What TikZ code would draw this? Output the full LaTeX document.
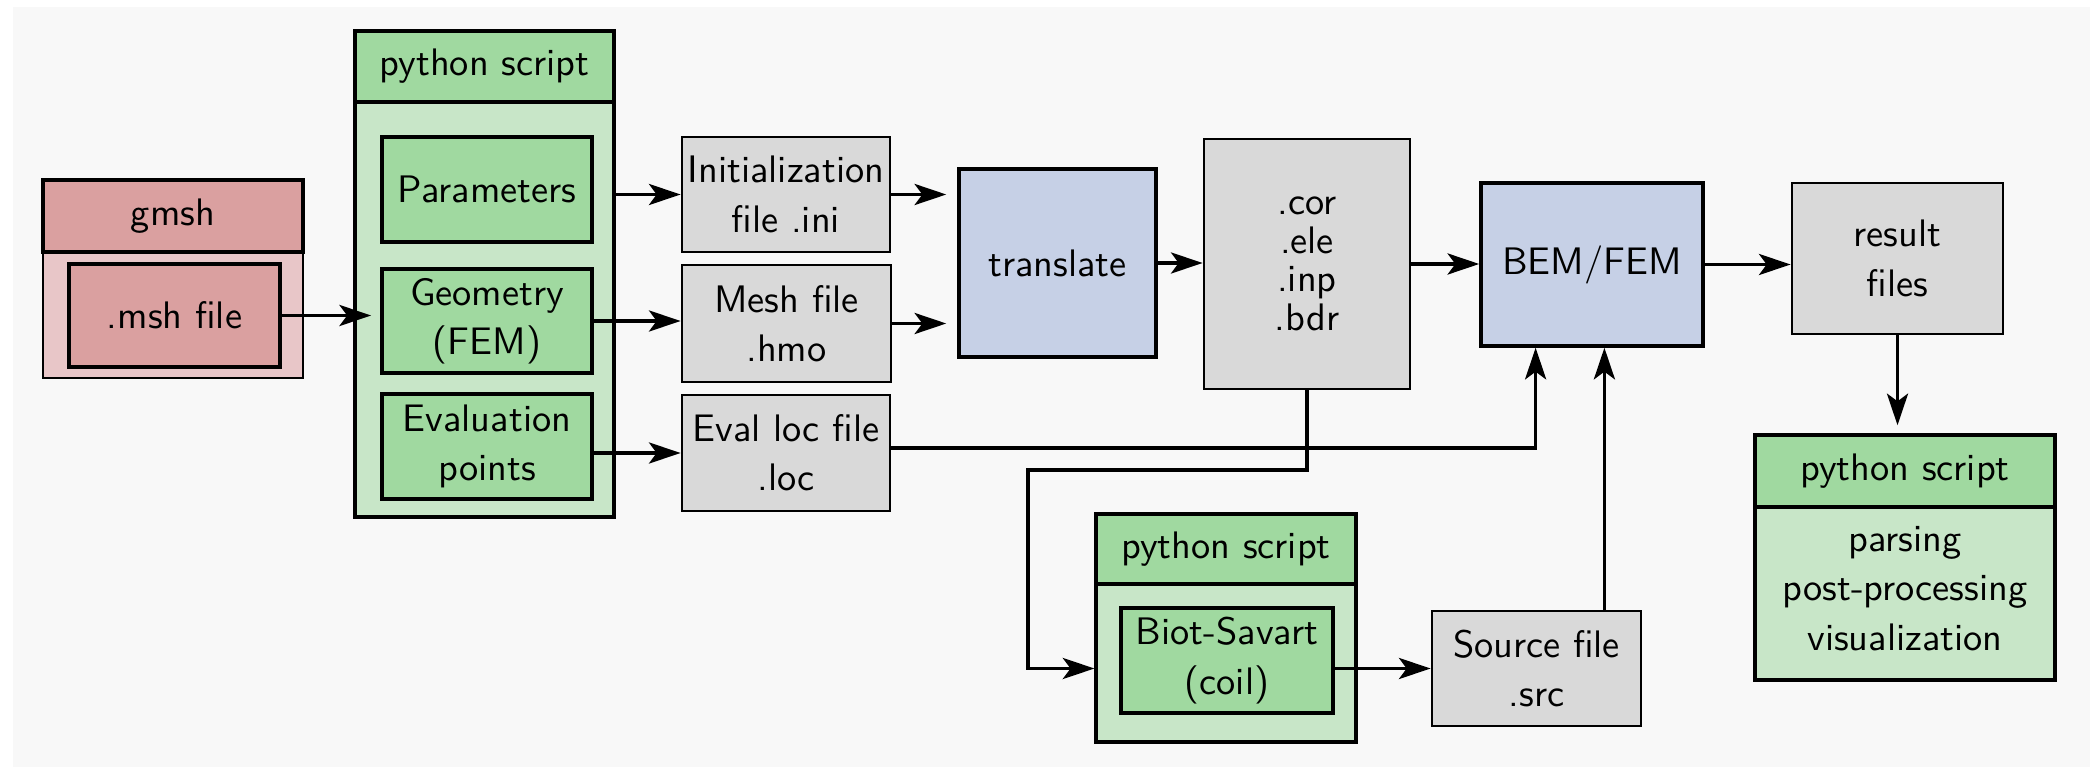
\documentclass[tikz,border=0pt]{standalone}
\usetikzlibrary{arrows.meta,calc}
\definecolor{bgc}{RGB}{248,248,248}
\definecolor{redH}{RGB}{218,160,160}
\definecolor{redL}{RGB}{232,198,200}
\definecolor{grnH}{RGB}{160,217,160}
\definecolor{grnL}{RGB}{200,230,200}
\definecolor{bluB}{RGB}{198,208,230}
\definecolor{gryB}{RGB}{217,217,217}
\newcommand\mybox[7]{%
 \pgfmathsetmacro\cx{(#2+#4)/2}\pgfmathsetmacro\cy{(#3+#5)/2}%
 \pgfmathsetmacro\ww{(#4-#2)*0.01}\pgfmathsetmacro\hh{(#5-#3)*0.01}%
 \node[#6, minimum width=\ww cm, minimum height=\hh cm] (#1) at (\cx,\cy) {#7};}
\tikzset{
 base/.style={draw=black, inner sep=0pt, align=center, font=\sffamily\fontsize{10.9}{14}\selectfont},
 redhead/.style={base, fill=redH, line width=1pt},
 redbody/.style={base, fill=redL, line width=0.7pt},
 redinner/.style={base, fill=redH, line width=1.1pt},
 grnhead/.style={base, fill=grnH, line width=1pt},
 grnbody/.style={base, fill=grnL, line width=0.9pt},
 grninner/.style={base, fill=grnH, line width=1.1pt},
 grybox/.style={base, fill=gryB, line width=0.8pt},
 blubox/.style={base, fill=bluB, line width=1pt},
 tight/.style={font=\sffamily\fontsize{10.9}{11}\selectfont},
 conn/.style={line width=1pt, -{Stealth[length=9pt, width=6pt, inset=2.2pt]}},
 plain/.style={line width=1pt}
}
\begin{document}
\begin{tikzpicture}[x=0.01cm, y=-0.01cm]
\useasboundingbox (0,0) rectangle (2090,767);
\fill[bgc] (13,7) rectangle (2090,767);
% gmsh
\mybox{gmshbody}{43}{252}{303}{378}{redbody}{}
\mybox{gmshhead}{43}{180}{303}{252}{redhead}{\raisebox{-1.5pt}{gmsh}}
\mybox{msh}{69}{264}{280}{367}{redinner}{.msh file}
% python script 1
\mybox{pyAbody}{355}{102}{614}{517}{grnbody}{}
\mybox{pyAhead}{355}{31}{614}{102}{grnhead}{python script}
\mybox{param}{382}{137}{592}{242}{grninner}{Parameters}
\mybox{geom}{382}{269}{592}{373}{grninner}{Geometry\\(FEM)}
\mybox{eval}{382}{394}{592}{499}{grninner}{Evaluation\\points}
% files
\mybox{ini}{682}{137}{890}{252}{grybox}{Initialization\\file .ini}
\mybox{mesh}{682}{265}{891}{382}{grybox}{Mesh file\\.hmo}
\mybox{evalloc}{682}{395}{890}{511}{grybox}{Eval loc file\\.loc}
\mybox{translate}{959}{169}{1156}{357}{blubox}{translate}
\mybox{cor}{1204}{139}{1410}{389}{grybox,tight}{.cor\\.ele\\.inp\\.bdr}
\mybox{bem}{1481}{183}{1703}{346}{blubox}{BEM/FEM}
\mybox{result}{1792}{183}{2003}{334}{grybox}{result\\files}
% python script 3
\mybox{pyCbody}{1755}{507}{2055}{680}{grnbody}{}
\node[base, draw=none, yshift=0.05cm] (pyCtext) at (pyCbody.center) {parsing\\post-processing\\visualization};
\mybox{pyChead}{1755}{435}{2055}{507}{grnhead}{python script}
% python script 2
\mybox{pyBbody}{1096}{584}{1356}{742}{grnbody}{}
\mybox{pyBhead}{1096}{514}{1356}{584}{grnhead}{python script}
\mybox{biot}{1121}{608}{1333}{713}{grninner}{Biot-Savart\\(coil)}
\mybox{source}{1432}{611}{1641}{726}{grybox}{Source file\\.src}
% connectors
\draw[conn, shorten >=0.09cm] (msh.east) -- (msh.east -| geom.west);
\draw[conn] (pyAbody.east |- ini.west) -- (ini.west);
\draw[conn] (geom.east) -- (geom.east -| mesh.west);
\draw[conn] (eval.east |- evalloc.west) -- (evalloc.west);
\draw[conn, shorten >=0.11cm] (ini.east) -- (ini.east -| translate.west);
\draw[conn, shorten >=0.11cm] (mesh.east) -- (mesh.east -| translate.west);
\draw[conn] (translate.east) -- (translate.east -| cor.west);
\draw[conn] (cor.east) -- (cor.east -| bem.west);
\draw[conn] (bem.east) -- (bem.east -| result.west);
\draw[conn, shorten >=0.08cm] (result.south) -- (result.south |- pyChead.north);
\coordinate (b1) at ($(bem.south west)!0.25!(bem.south east)$);
\coordinate (b2) at ($(bem.south west)!0.555!(bem.south east)$);
\coordinate (lpy) at ($(evalloc.east)+(0,-5)$);
\draw[conn] (lpy) -| (b1);
\draw[conn] (source.north -| b2) -- (b2);
\coordinate (turn) at (1028,470);
\draw[conn] (cor.south) |- (turn) |- (pyBbody.west |- source.west);
\draw[conn] (biot.east |- source.west) -- (source.west);
\end{tikzpicture}
\end{document}
